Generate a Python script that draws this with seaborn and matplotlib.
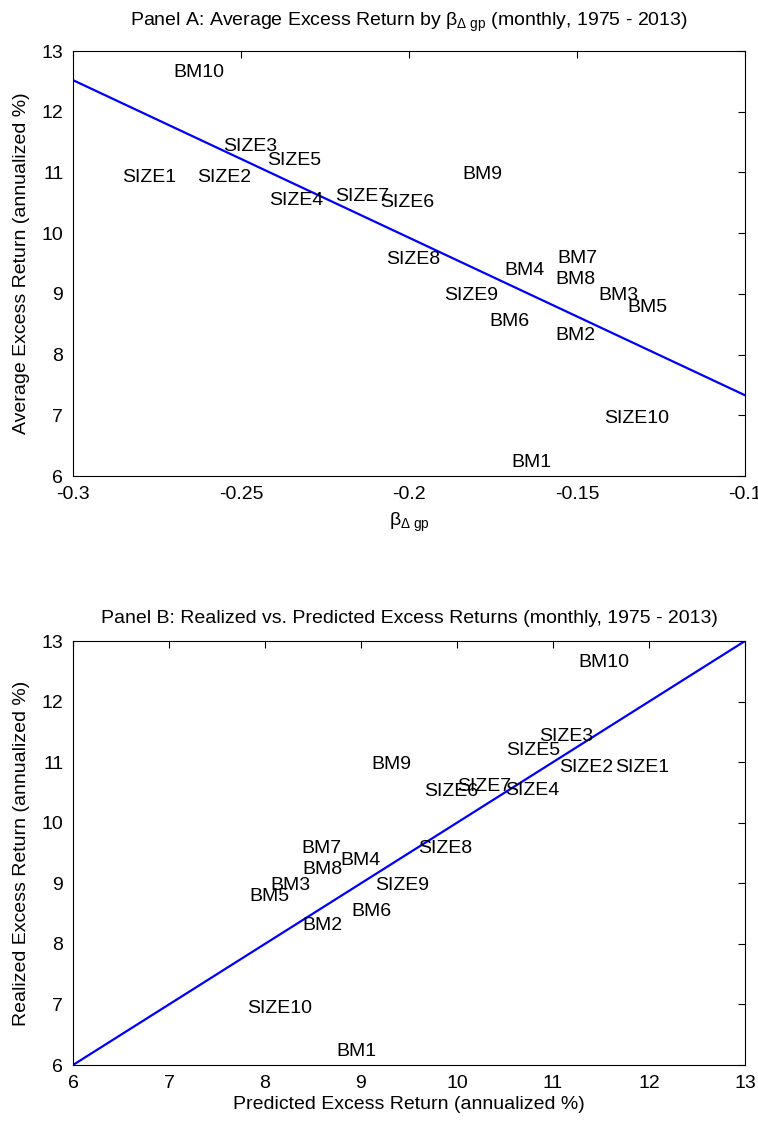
import matplotlib
matplotlib.use("Agg")
import matplotlib.pyplot as plt
import seaborn as sns
import pandas as pd
import numpy as np

# ---------------- data ----------------
portfolios = ["SIZE1", "SIZE2", "SIZE3", "SIZE4", "SIZE5", "SIZE6", "SIZE7", "SIZE8", "SIZE9", "SIZE10",
              "BM1", "BM2", "BM3", "BM4", "BM5", "BM6", "BM7", "BM8", "BM9", "BM10"]
beta_dgp = [-0.2853, -0.2630, -0.2554, -0.2417, -0.2422, -0.2086, -0.2220, -0.2068, -0.1896, -0.1420,
            -0.1696, -0.1563, -0.1435, -0.1716, -0.1350, -0.1762, -0.1559, -0.1563, -0.1840, -0.2701]
realized = [10.91, 10.91, 11.43, 10.54, 11.20, 10.51, 10.60, 9.57, 8.97, 6.94,
            6.22, 8.31, 8.97, 9.38, 8.78, 8.54, 9.58, 9.23, 10.96, 12.65]
predicted = [11.65, 11.06, 10.86, 10.50, 10.51, 9.66, 10.00, 9.59, 9.15, 7.81,
             8.74, 8.39, 8.06, 8.79, 7.84, 8.90, 8.38, 8.39, 9.11, 11.26]
fit_intercept = 4.735
fit_slope = -25.95

xticks_a = [-0.3, -0.25, -0.2, -0.15, -0.1]
xticklabels_a = ["-0.3", "-0.25", "-0.2", "-0.15", "-0.1"]
yticks = [6, 7, 8, 9, 10, 11, 12, 13]
xticks_b = [6, 7, 8, 9, 10, 11, 12, 13]

df = pd.DataFrame({"name": portfolios, "beta": beta_dgp, "realized": realized, "predicted": predicted})

# ---------------- style ----------------
sns.set_style("white")
plt.rcParams["font.family"] = ["Liberation Sans", "DejaVu Sans"]
plt.rcParams["mathtext.fontset"] = "custom"
plt.rcParams["mathtext.rm"] = "Liberation Sans"
plt.rcParams["mathtext.it"] = "Liberation Sans"
plt.rcParams["mathtext.default"] = "regular"
plt.rcParams["axes.unicode_minus"] = False
plt.rcParams["text.color"] = "black"
plt.rcParams["axes.labelcolor"] = "black"
plt.rcParams["xtick.color"] = "black"
plt.rcParams["ytick.color"] = "black"

FS = 14

fig = plt.figure(figsize=(7.58, 11.22), dpi=100)
W, H = 758, 1122
axA = fig.add_axes([73 / W, 1 - 476 / H, 672 / W, 425 / H])
axB = fig.add_axes([73 / W, 1 - 1065 / H, 672 / W, 424 / H])


def style_axes(ax):
    for s in ax.spines.values():
        s.set_visible(True)
        s.set_color("black")
        s.set_linewidth(0.8)
    ax.tick_params(direction="in", length=5, width=0.8, top=True, right=True,
                   labelsize=FS, pad=7, colors="black")


# Panel A
xlineA = np.array([xticks_a[0], xticks_a[-1]])
sns.lineplot(x=xlineA, y=fit_intercept + fit_slope * xlineA, ax=axA, color="#0000ff", linewidth=1.6)
for _, r in df.iterrows():
    axA.text(r["beta"], r["realized"], r["name"], ha="left", va="center", fontsize=FS, color="black")
axA.set_xlim(-0.3, -0.1)
axA.set_ylim(6, 13)
axA.set_xticks(xticks_a)
axA.set_xticklabels(xticklabels_a)
axA.set_yticks(yticks)
axA.set_title(r"Panel A: Average Excess Return by $\beta_{\Delta\ gp}$ (monthly, 1975 - 2013)",
              fontsize=FS, pad=18, color="black")
axA.set_xlabel(r"$\beta_{\Delta\ gp}$", fontsize=FS, labelpad=6, color="black")
axA.set_ylabel("Average Excess Return (annualized %)", fontsize=FS, labelpad=8, color="black")
style_axes(axA)

# Panel B
xlineB = np.array([xticks_b[0], xticks_b[-1]])
sns.lineplot(x=xlineB, y=xlineB, ax=axB, color="#0000ff", linewidth=1.6)
for _, r in df.iterrows():
    axB.text(r["predicted"], r["realized"], r["name"], ha="left", va="center", fontsize=FS, color="black")
axB.set_xlim(6, 13)
axB.set_ylim(6, 13)
axB.set_xticks(xticks_b)
axB.set_yticks(yticks)
axB.set_title("Panel B: Realized vs. Predicted Excess Returns (monthly, 1975 - 2013)",
              fontsize=FS, pad=13, color="black")
axB.set_xlabel("Predicted Excess Return (annualized %)", fontsize=FS, labelpad=3, color="black")
axB.set_ylabel("Realized Excess Return (annualized %)", fontsize=FS, labelpad=8, color="black")
style_axes(axB)

fig.savefig("out.png", dpi=100, facecolor="white")
